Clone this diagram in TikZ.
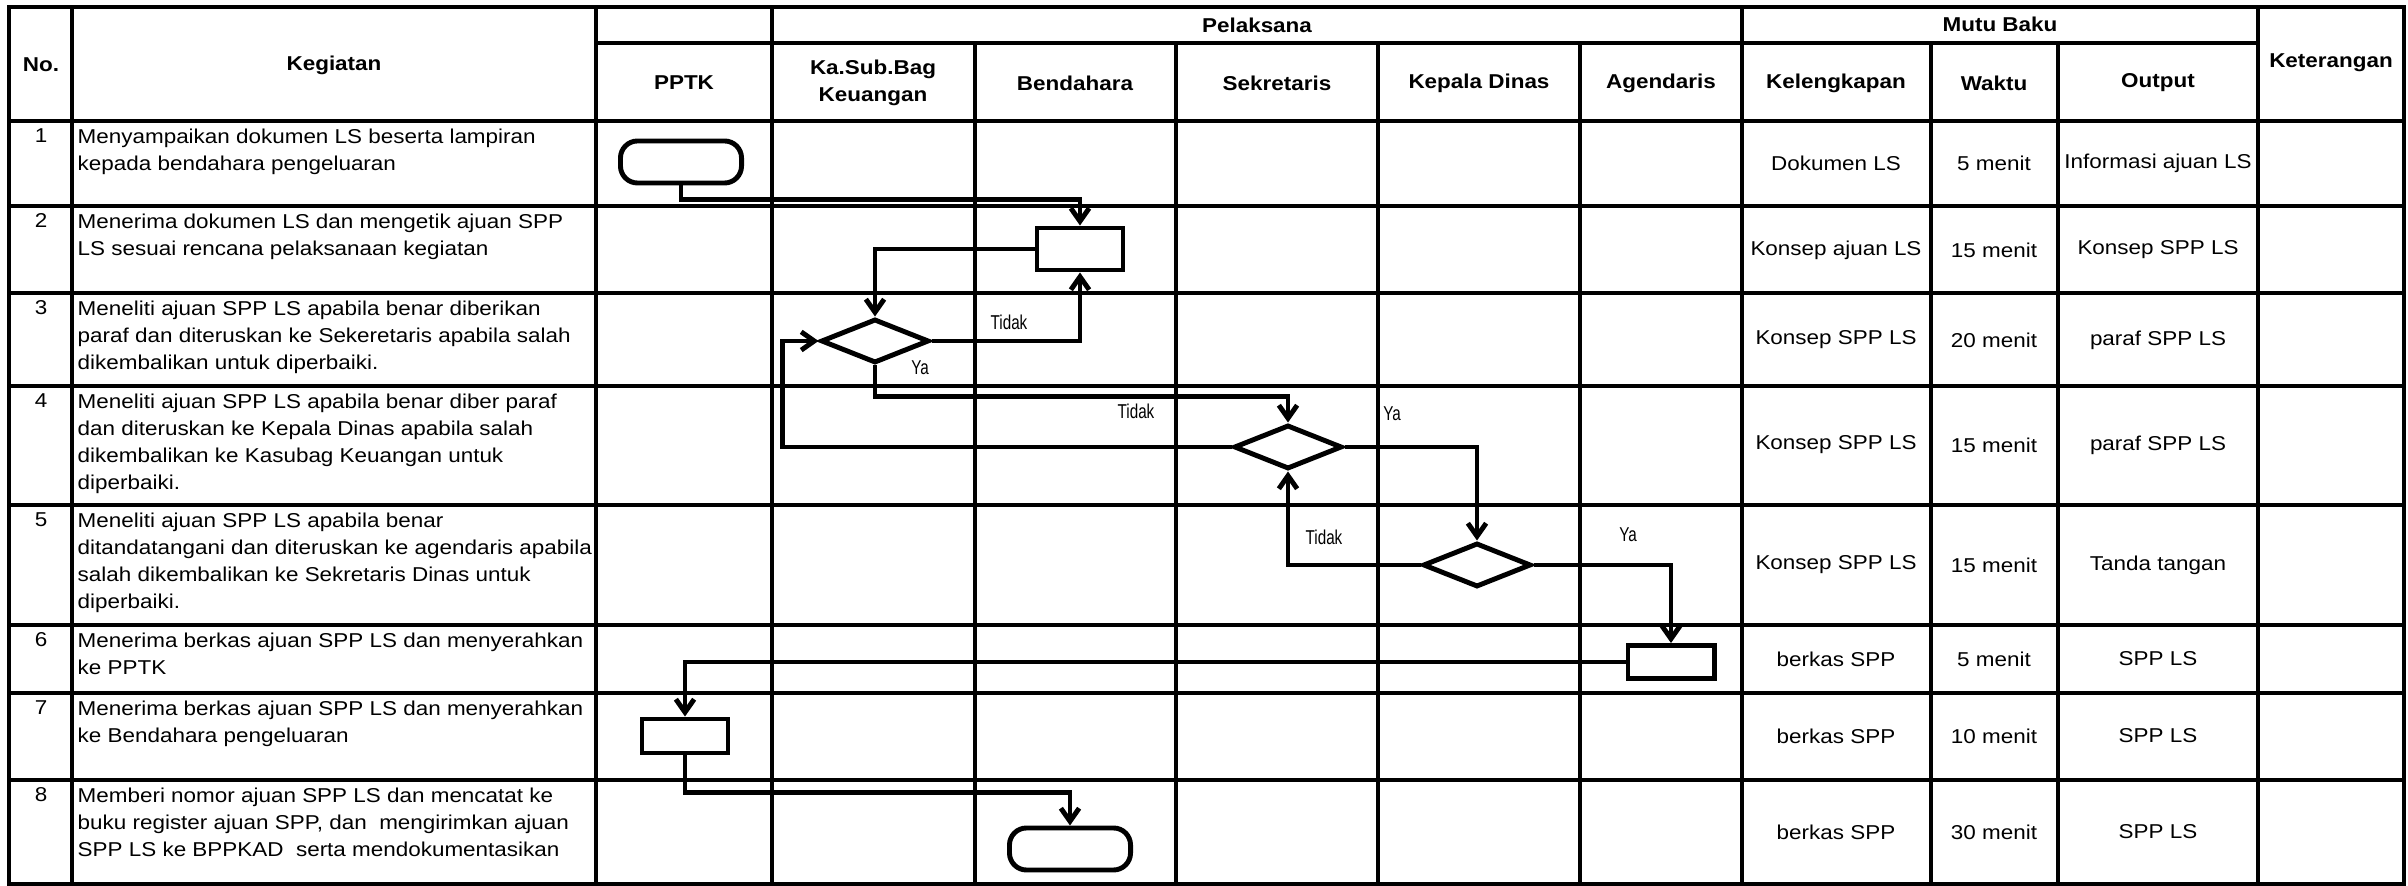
\documentclass[tikz,border=0pt]{standalone}
\usepackage{fontspec}
\setmainfont[FakeStretch=1.12]{Liberation Sans}
\newfontfamily\lblfont[FakeStretch=0.76]{Liberation Sans}
\usetikzlibrary{shapes.geometric,arrows.meta}
\newcommand{\tblsize}{\fontsize{5.7pt}{7.7pt}\selectfont}
\tikzset{
  grid/.style={line width=0.9pt,line cap=rect},
  flow/.style={line width=1.4pt,->},
  proc/.style={draw,line width=1.4pt,rectangle,inner sep=0pt,minimum width=0.86cm,minimum height=0.42cm},
  term/.style={draw,line width=1.4pt,rectangle,rounded corners=0.17cm,inner sep=0pt,minimum width=1.21cm,minimum height=0.42cm},
  dec/.style={draw,line width=1.4pt,diamond,aspect=2.5,inner sep=0pt,minimum width=1.08cm,minimum height=0.44cm},
  hd/.style={font=\tblsize\bfseries,align=center,inner sep=0pt},
  isi/.style={font=\tblsize,inner sep=0pt},
  keg/.style={font=\tblsize,anchor=north west,align=left,inner sep=0pt},
  lbl/.style={font=\tblsize\lblfont,inner sep=0pt},
}
\begin{document}
\begin{tikzpicture}[x=0.01cm,y=-0.01cm,>={Straight Barb[length=3.7pt,width=5.2pt]}]
\useasboundingbox (0,0) rectangle (2408,886);
\foreach \yy in {7,121,206,293,386,505,625,693,780,884}
  \draw[grid] (9,\yy) -- (2404,\yy);
\draw[grid] (596,43) -- (2258,43);
\foreach \xx in {9,72,596,772,1742,2258,2404}
  \draw[grid] (\xx,7) -- (\xx,884);
\foreach \xx in {975,1176,1378,1580,1931,2058}
  \draw[grid] (\xx,43) -- (\xx,884);

\node[hd] (no) at (41,65) {No.};
\node[hd] (kegiatan) at (334,65) {Kegiatan};
\node[hd] (pelaksana) at (1257,25) {Pelaksana};
\node[hd] (mutu) at (2000,24) {Mutu Baku};
\node[hd] (ket) at (2331,63) {Keterangan};
\node[hd] (pptk) at (684,83) {PPTK};
\node[hd] (kasub) at (873,83) {Ka.Sub.Bag\\Keuangan};
\node[hd] (bend) at (1075,83) {Bendahara};
\node[hd] (sekr) at (1277,83) {Sekretaris};
\node[hd] (kadis) at (1479,83) {Kepala Dinas};
\node[hd] (agen) at (1661,83) {Agendaris};
\node[hd] (kel) at (1836,83) {Kelengkapan};
\node[hd] (wkt) at (1994,83) {Waktu};
\node[hd] (out) at (2158,83) {Output};

\foreach \i/\yt/\txt in {
  1/121/{Menyampaikan dokumen LS beserta lampiran\\kepada bendahara pengeluaran},
  2/206/{Menerima dokumen LS dan mengetik ajuan SPP\\LS sesuai rencana pelaksanaan kegiatan},
  3/293/{Meneliti ajuan SPP LS apabila benar diberikan\\paraf dan diteruskan ke Sekeretaris apabila salah\\dikembalikan untuk diperbaiki.},
  4/386/{Meneliti ajuan SPP LS apabila benar diber paraf\\dan diteruskan ke Kepala Dinas apabila salah\\dikembalikan ke Kasubag Keuangan untuk\\diperbaiki.},
  5/505/{Meneliti ajuan SPP LS apabila benar\\ditandatangani dan diteruskan ke agendaris apabila\\salah dikembalikan ke Sekretaris Dinas untuk\\diperbaiki.},
  6/625/{Menerima berkas ajuan SPP LS dan menyerahkan\\ke PPTK},
  7/693/{Menerima berkas ajuan SPP LS dan menyerahkan\\ke Bendahara pengeluaran},
  8/780/{Memberi nomor ajuan SPP LS dan mencatat ke\\buku register ajuan SPP, dan\ \ mengirimkan ajuan\\SPP LS ke BPPKAD\ \ serta mendokumentasikan}}{
  \node[isi,anchor=north] (no\i) at (41,\yt+7) {\i};
  \node[keg] (keg\i) at (77,\yt+7) {\txt};
}

\foreach \i/\ym/\kl/\wk/\op in {
  1/163/Dokumen LS/5 menit/Informasi ajuan LS,
  2/250/Konsep ajuan LS/15 menit/Konsep SPP LS,
  3/340/Konsep SPP LS/20 menit/paraf SPP LS,
  4/445/Konsep SPP LS/15 menit/paraf SPP LS,
  5/565/Konsep SPP LS/15 menit/Tanda tangan,
  6/659/berkas SPP/5 menit/SPP LS,
  7/736/berkas SPP/10 menit/SPP LS,
  8/832/berkas SPP/30 menit/SPP LS}{
  \node[isi] (kel\i) at (1836,\ym) {\kl};
  \node[isi] (wkt\i) at (1994,\ym) {\wk};
  \node[isi] (out\i) at (2158,\ym) {\op};
}

\node[term] (mulai) at (681,162) {};
\node[proc] (terima) at (1080,249) {};
\node[dec] (cekkasub) at (875,341) {};
\node[dec] (ceksekr) at (1288,447) {};
\node[dec] (cekkadis) at (1477,565) {};
\node[proc,minimum height=0.33cm] (agenda) at (1671,662) {};
\node[proc,minimum height=0.34cm] (pptkbox) at (685,736) {};
\node[term] (selesai) at (1070,849) {};

\draw[flow] (mulai.south) -- ++(0,14) -| (terima.north);
\draw[flow] (terima.west) -| (cekkasub.north);
\draw[flow] (cekkasub.east) -| (terima.south);
\draw[flow] (cekkasub.south) -- ++(0,31) -| (ceksekr.north);
\draw[flow] (ceksekr.west) -- ++(-449,0) |- (cekkasub.west);
\draw[flow] (ceksekr.east) -| (cekkadis.north);
\draw[flow] (cekkadis.west) -| (ceksekr.south);
\draw[flow] (cekkadis.east) -| (agenda.north);
\draw[flow] (agenda.west) -| (pptkbox.north);
\draw[flow] (pptkbox.south) -- ++(0,37) -| (selesai.north);

\node[lbl] (tidak1) at (1009,322) {Tidak};
\node[lbl] (ya1) at (920,368) {Ya};
\node[lbl] (tidak2) at (1136,411) {Tidak};
\node[lbl] (ya2) at (1392,414) {Ya};
\node[lbl] (tidak3) at (1324,537) {Tidak};
\node[lbl] (ya3) at (1628,535) {Ya};
\end{tikzpicture}
\end{document}
